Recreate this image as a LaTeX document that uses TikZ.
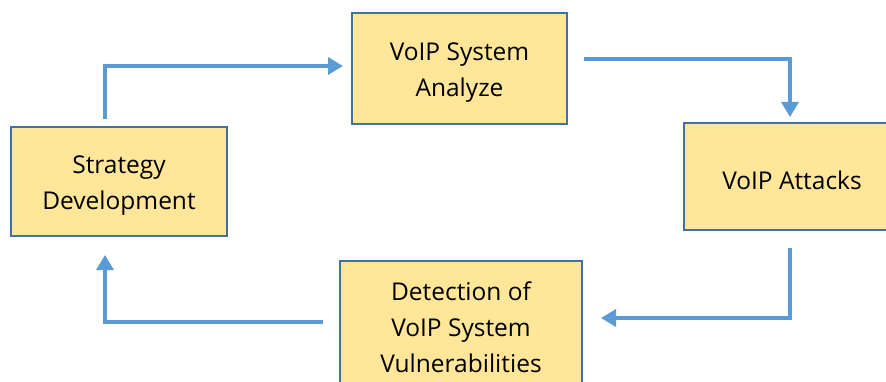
\documentclass[tikz,border=0pt]{standalone}
\usepackage{fontspec}
\setmainfont{Open Sans}
\usetikzlibrary{arrows.meta}
\definecolor{boxfill}{HTML}{FFE699}
\definecolor{boxline}{HTML}{41719C}
\definecolor{flowblue}{HTML}{5B9BD5}
% lower a label inside its box without changing the box's reported size
\newcommand{\droplabel}[2]{\raisebox{-#1}[\height][\depth]{\parbox{190pt}{\centering #2}}}
\tikzset{
  stage/.style={draw=boxline, line width=2pt, fill=boxfill, inner sep=0pt, outer sep=0pt,
    align=center, font=\fontsize{24.5}{36}\selectfont, text=black},
  flow/.style={draw=flowblue, line width=3.5pt, -{Triangle[length=15pt,width=17pt]}}
}
\begin{document}
\begin{tikzpicture}[x=1pt,y=1pt]
  \useasboundingbox (0,0) rectangle (886,381);
  \clip (0,0) rectangle (886,381);
  % process stages
  \node[stage, minimum width=215pt, minimum height=111pt] (analyze) at (459.5,312.5) {\droplabel{4.5pt}{VoIP System\\Analyze}};
  \node[stage, minimum width=216pt, minimum height=107pt] (attacks) at (792,204.5) {\droplabel{4pt}{VoIP Attacks}};
  \node[stage, minimum width=242pt, minimum height=132pt] (detect) at (461,54) {Detection of\\VoIP System\\Vulnerabilities};
  \node[stage, minimum width=216pt, minimum height=109pt] (strat) at (119,199.5) {\droplabel{4pt}{Strategy\\Development}};
  % cycle connectors
  \draw[flow] ([xshift=-14pt,yshift=8pt]strat.north) |- ([xshift=-9pt,yshift=2.5pt]analyze.west);
  \draw[flow] ([xshift=17pt,yshift=9.5pt]analyze.east) -| ([xshift=-2pt,yshift=6pt]attacks.north);
  \draw[flow] ([xshift=-2pt,yshift=-18pt]attacks.south) |- ([xshift=19pt,yshift=9pt]detect.east);
  \draw[flow] ([xshift=-17pt,yshift=5pt]detect.west) -| ([xshift=-14pt,yshift=-19pt]strat.south);
\end{tikzpicture}
\end{document}
